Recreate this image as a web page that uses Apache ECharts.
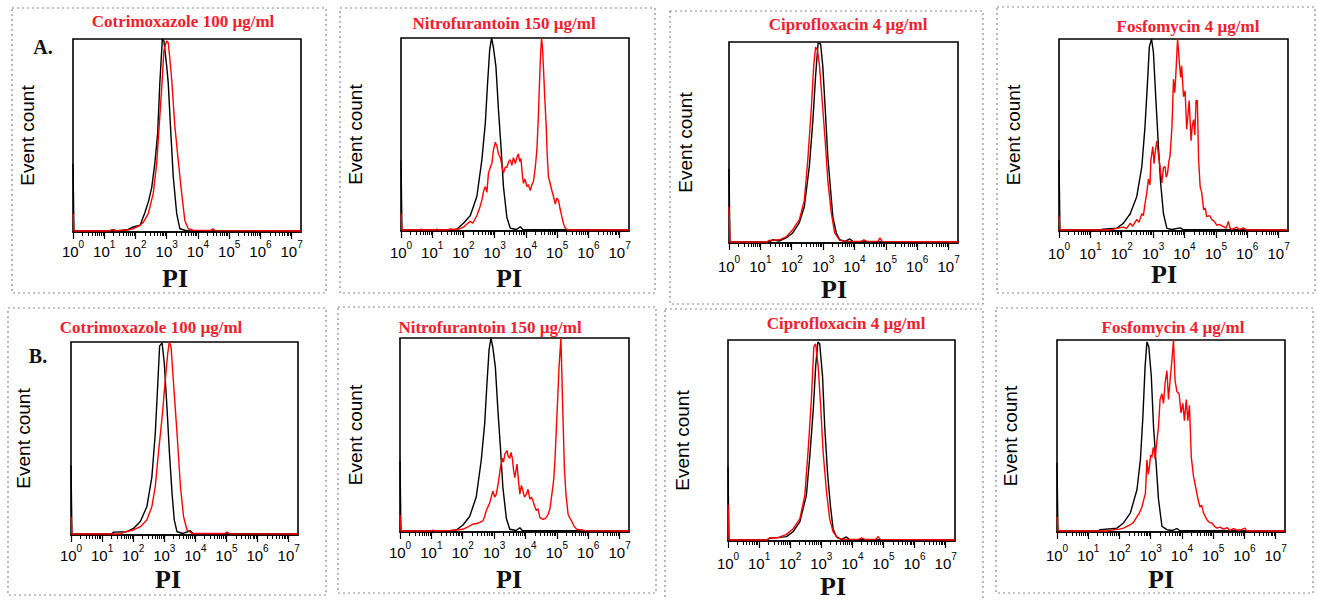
<!DOCTYPE html>
<html><head><meta charset="utf-8">
<script src="https://cdn.jsdelivr.net/npm/echarts@6/dist/echarts.min.js"></script>
<style>html,body{margin:0;padding:0;background:#fff}#c{width:1317px;height:600px}</style>
</head><body><div id="c"></div>
<script>
// ---------- DATA ----------
const decades = [0, 1, 2, 3, 4, 5, 6, 7];          // major tick exponents (10^n)
const minorFactors = [2, 3, 4, 5, 6, 7, 8, 9];     // minor ticks inside each decade
const panelTitles = ['Cotrimoxazole 100 µg/ml', 'Nitrofurantoin 150 µg/ml', 'Ciprofloxacin 4 µg/ml', 'Fosfomycin 4 µg/ml',
                     'Cotrimoxazole 100 µg/ml', 'Nitrofurantoin 150 µg/ml', 'Ciprofloxacin 4 µg/ml', 'Fosfomycin 4 µg/ml'];
const rowLabels = ['A.', 'B.'];
const xName = 'PI';
const yName = 'Event count';
// x = log10(PI), y = event count (% of panel maximum)
const controlA1 = [[0,35.5],[0.03,0.5],[1.2,0.5],[1.3,1.2],[1.4,0.5],[1.75,1.2],[1.93,2.6],[2.15,3.5],[2.3,10],[2.42,16],[2.52,23],[2.62,35.5],[2.71,51],[2.78,77],[2.86,100],[2.91,99],[3.0,86],[3.05,77],[3.12,55],[3.21,28.6],[3.32,9.5],[3.42,1.7],[3.58,0.9],[3.7,0.5],[7.3,0.5]];
const treatedA1 = [[0,9.5],[0.03,0.5],[1.15,0.5],[1.25,1.2],[1.35,0.5],[1.6,1.0],[1.8,1.2],[1.93,1.7],[2.1,3],[2.25,5],[2.41,9.5],[2.57,20],[2.68,35.5],[2.76,55],[2.85,77],[2.91,94],[2.96,97],[3.0,99],[3.05,98],[3.1,90],[3.16,79],[3.26,55],[3.37,37],[3.48,20],[3.58,6],[3.69,1.7],[3.85,0.9],[4.4,0.8],[4.48,1.7],[4.55,0.7],[7.3,0.5]];
const controlA2 = [[0,36.7],[0.03,0.5],[1.6,0.5],[1.79,1],[2.0,4],[2.22,8],[2.43,18],[2.59,37],[2.7,56],[2.77,76],[2.84,94],[2.9,100],[2.96,95],[3.04,85],[3.12,63],[3.2,44],[3.28,23],[3.39,7],[3.5,1.4],[3.7,0.8],[3.82,2.2],[3.9,0.8],[7.3,0.5]];
const treatedA2 = [[0,9],[0.03,0.5],[0.6,0.5],[0.65,1],[0.7,0.5],[1.1,0.5],[1.15,1],[1.2,0.5],[1.5,0.5],[1.55,1],[1.7,0.8],[1.85,1],[2.0,2],[2.1,3.5],[2.22,5],[2.3,4],[2.43,8],[2.52,12],[2.59,16],[2.65,21],[2.7,23],[2.75,20],[2.8,30],[2.86,33],[2.91,35],[2.96,42],[3.02,46],[3.07,44],[3.12,40],[3.18,38],[3.23,34],[3.28,30],[3.34,33],[3.39,33],[3.45,36],[3.5,37],[3.55,34],[3.6,38],[3.66,35],[3.71,38],[3.76,40],[3.8,36],[3.84,37.6],[3.88,30],[3.92,24.7],[3.97,27],[4.03,23],[4.08,24],[4.14,21],[4.19,24],[4.24,25.5],[4.3,33],[4.35,42],[4.4,60],[4.43,75],[4.47,92],[4.5,100],[4.53,95],[4.56,85],[4.6,70],[4.65,54],[4.68,40],[4.72,28],[4.77,25],[4.83,21],[4.88,18],[4.94,14],[4.99,17],[5.04,16],[5.1,11],[5.15,7.4],[5.2,4],[5.26,1.4],[5.36,0.5],[7.3,0.5]];
const controlA3 = [[0,37],[0.03,0.5],[1.3,0.5],[1.39,1.6],[1.6,1],[1.82,2.5],[2.03,5],[2.24,10],[2.4,18],[2.56,38],[2.67,60],[2.76,83],[2.84,99.5],[2.92,99],[2.99,88],[3.07,66],[3.15,43],[3.23,28],[3.31,13],[3.42,5],[3.53,1.6],[3.7,0.8],[3.85,2],[3.95,0.8],[7.3,0.5]];
const treatedA3 = [[0,18],[0.03,0.5],[1.2,0.5],[1.28,1.3],[1.6,1.6],[1.82,3],[2.03,6.6],[2.24,11.5],[2.4,21],[2.51,41],[2.62,66],[2.7,88],[2.76,97.5],[2.82,96],[2.88,89],[2.97,71],[3.07,50],[3.15,31],[3.26,15],[3.37,5],[3.53,1.3],[3.7,0.8],[4.2,0.8],[4.3,1.6],[4.4,0.8],[4.75,0.8],[4.81,2.5],[4.88,0.8],[7.3,0.5]];
const controlA4 = [[0,37],[0.03,0.5],[1.3,0.5],[1.41,1],[1.84,1.4],[2.05,4],[2.27,9],[2.48,18],[2.64,33.5],[2.74,54],[2.82,77],[2.88,96],[2.95,100],[3.01,93],[3.09,68],[3.17,44],[3.24,25],[3.33,9],[3.44,1.4],[3.6,0.8],[3.86,1.6],[3.95,0.8],[7.3,0.5]];
const treatedA4 = [[0,8],[0.03,0.5],[1.6,0.5],[1.73,1],[2.05,2],[2.15,1.2],[2.27,4],[2.35,2.5],[2.48,6],[2.55,4.5],[2.64,9],[2.69,8],[2.74,14],[2.8,20],[2.85,27],[2.9,24],[2.93,37],[2.99,44],[3.03,35],[3.06,40],[3.12,47],[3.19,37],[3.24,31],[3.28,25],[3.33,33],[3.38,33.5],[3.42,28],[3.46,30],[3.5,36],[3.54,39],[3.6,54],[3.65,79],[3.69,72],[3.72,80],[3.78,100],[3.84,87],[3.88,80],[3.91,86],[3.97,70],[4.02,73],[4.07,53],[4.11,60],[4.15,68],[4.21,47],[4.25,55],[4.29,58],[4.33,50],[4.37,68],[4.41,68],[4.45,37],[4.5,23],[4.55,20],[4.61,11],[4.66,12],[4.71,7.5],[4.8,8],[4.87,6],[4.95,5],[5.03,3],[5.1,3.5],[5.24,2.3],[5.33,1.5],[5.4,5],[5.45,1.5],[5.51,0.8],[5.67,2],[5.75,0.8],[5.88,1.6],[5.99,0.5],[7.3,0.5]];
const controlB1 = [[0,36],[0.03,0.5],[1.3,0.5],[1.37,1.5],[1.8,1.7],[2.01,3.4],[2.23,7],[2.44,14.7],[2.6,30],[2.71,52.6],[2.79,78],[2.85,98],[2.93,99.5],[3.0,89],[3.09,65],[3.16,44],[3.25,21.5],[3.32,7.8],[3.41,1.7],[3.6,0.8],[3.84,2.2],[3.92,0.8],[7.3,0.5]];
const treatedB1 = [[0,9.5],[0.03,0.5],[1.6,0.5],[1.69,1.5],[2.01,2.6],[2.23,4.3],[2.44,7.8],[2.6,14.7],[2.71,25],[2.82,44],[2.93,61],[3.03,80],[3.11,94],[3.16,100],[3.22,97],[3.3,78],[3.41,52.6],[3.52,25],[3.62,9.5],[3.73,2.6],[3.89,0.8],[4.95,0.8],[5.02,1.5],[5.1,0.6],[7.3,0.5]];
const controlB2 = [[0,36.7],[0.03,0.5],[1.6,0.5],[1.79,1],[2.0,3.5],[2.22,8],[2.43,18],[2.59,37],[2.7,56],[2.77,76],[2.84,94],[2.9,100],[2.96,95],[3.04,85],[3.12,63],[3.2,44],[3.28,23],[3.39,7],[3.5,1.4],[3.7,0.8],[3.82,2.2],[3.9,0.8],[7.3,0.5]];
const treatedB2 = [[0,9],[0.03,0.5],[1.0,0.5],[1.05,1],[1.1,0.5],[1.6,0.8],[1.79,1],[2.0,1.4],[2.15,2.5],[2.32,4],[2.48,4.5],[2.64,5.7],[2.7,8],[2.75,11],[2.86,15],[2.96,21],[3.02,18],[3.07,19.5],[3.14,26],[3.2,33],[3.26,38],[3.3,36],[3.34,40],[3.41,42],[3.45,39],[3.5,38],[3.54,41],[3.58,38],[3.62,32],[3.66,28],[3.73,35],[3.78,26],[3.82,19.5],[3.87,24],[3.92,21],[3.97,18],[4.03,19.5],[4.08,22],[4.14,17],[4.19,18],[4.24,16],[4.3,13],[4.35,11],[4.4,12],[4.46,7.4],[4.56,6.5],[4.64,7],[4.72,9],[4.78,12],[4.83,18],[4.9,27],[4.94,37],[5.01,62.6],[5.07,85],[5.13,100],[5.18,68],[5.24,33],[5.29,19.5],[5.36,9],[5.42,7],[5.47,5.7],[5.55,3],[5.63,1.4],[5.8,1],[5.95,0.6],[7.3,0.5]];
const controlB3 = [[0,36.7],[0.03,0.5],[1.25,0.5],[1.34,1.3],[1.88,2.2],[2.09,4.6],[2.31,9.5],[2.52,22.7],[2.63,42],[2.74,65],[2.82,87],[2.89,99],[2.95,98],[3.04,82],[3.11,57],[3.2,34],[3.29,18],[3.38,6],[3.49,2],[3.65,0.8],[3.81,2],[3.9,0.8],[7.3,0.5]];
const treatedB3 = [[0,18],[0.03,0.5],[1.25,0.5],[1.34,1.6],[1.6,1.6],[1.88,3.3],[2.09,6],[2.31,11],[2.47,22.7],[2.58,45.7],[2.68,70],[2.76,96.7],[2.82,98],[2.9,87],[2.98,67],[3.06,44],[3.17,24],[3.27,11],[3.38,4.6],[3.54,1.3],[3.7,0.8],[4.2,0.8],[4.3,1.6],[4.4,0.8],[4.75,0.8],[4.83,2.2],[4.9,0.8],[7.3,0.5]];
const controlB4 = [[0,36],[0.03,0.5],[1.3,0.5],[1.39,1.2],[1.92,2],[2.13,4.7],[2.35,10],[2.56,22],[2.67,37.6],[2.75,60],[2.82,86],[2.88,99],[2.94,96.5],[3.02,81],[3.09,55],[3.18,34],[3.25,17],[3.36,3],[3.52,1.2],[3.7,0.8],[3.84,1.8],[3.92,0.8],[7.3,0.5]];
const treatedB4 = [[0,8],[0.03,0.5],[1.6,0.5],[1.81,1.2],[2.0,1.5],[2.13,2],[2.35,3.8],[2.45,5],[2.56,8],[2.64,10],[2.72,13],[2.78,17],[2.83,20],[2.88,37.6],[2.92,30],[2.96,34],[3.0,40],[3.04,39],[3.08,44],[3.11,42.8],[3.14,38],[3.18,44.5],[3.25,55],[3.3,69],[3.36,72],[3.41,67],[3.46,77.5],[3.52,84],[3.57,69],[3.62,79],[3.68,89.6],[3.73,100],[3.78,79],[3.84,73],[3.91,72],[3.97,62],[4.03,67],[4.08,58],[4.14,69],[4.19,58],[4.24,66],[4.3,39],[4.37,29],[4.42,25],[4.48,20],[4.53,16],[4.58,13],[4.63,14],[4.69,10],[4.75,8],[4.8,6.4],[4.88,5],[4.96,4.7],[5.04,3],[5.12,2],[5.22,2.5],[5.33,1.5],[5.45,2.2],[5.54,0.8],[5.65,1.8],[5.76,1],[5.9,1.2],[6.02,2],[6.08,0.5],[7.3,0.5]];
const controls = [controlA1, controlA2, controlA3, controlA4, controlB1, controlB2, controlB3, controlB4];
const treated = [treatedA1, treatedA2, treatedA3, treatedA4, treatedB1, treatedB2, treatedB3, treatedB4];

// ---------- LAYOUT (pixels) ----------
const layout = [
  {grid:[73,39,228,193],  box:[12,8,314,285],   title:[183,21],  lm:7,  ng:33, sh:12,  yg:36},
  {grid:[401,38,228,193], box:[340,8,315,285],  title:[504,23],  lm:9,  ng:34, sh:6,   yg:36},
  {grid:[729,42,229,201], box:[670,11,313,293], title:[848,24],  lm:11, ng:33, sh:9.5, yg:34},
  {grid:[1059,39,229,192],box:[997,7,318,286],  title:[1188,26], lm:10, ng:30, sh:9.5, yg:36},
  {grid:[71,342,227,193], box:[8,308,318,287],  title:[151,327], lm:8,  ng:31, sh:16.5,yg:38},
  {grid:[400,338,229,194],box:[338,307,318,286],title:[490,327], lm:8,  ng:34, sh:5.5, yg:35},
  {grid:[728,340,227,203],box:[665,309,318,301],title:[846,323], lm:10, ng:32, sh:8.5, yg:36},
  {grid:[1057,340,228,192],box:[996,308,317,285],title:[1173,327],lm:11, ng:34, sh:10,  yg:37}
];
const rowLabelPos = [[43,47],[38,356]];

const minorTicks = [];
decades.slice(0, 7).forEach(d => minorFactors.forEach(f => minorTicks.push(d + Math.log10(f))));

const grids = [], xAxes = [], yAxes = [], series = [], graphics = [];
layout.forEach((p, i) => {
  const [l, t, w, h] = p.grid;
  grids.push({left: l, top: t, width: w, height: h, show: true, borderColor: '#000', borderWidth: 1.6, backgroundColor: 'transparent'});
  xAxes.push({
    type: 'value', gridIndex: i, min: 0, max: 7.3, position: 'bottom',
    axisLine: {show: true, onZero: false, lineStyle: {color: '#000', width: 1.6}},
    axisTick: {show: true, length: 7, lineStyle: {color: '#000', width: 1.2}, customValues: decades},
    axisLabel: {
      customValues: decades, margin: p.lm, color: '#000',
      formatter: v => '{b|10}{s|' + v + '}',
      rich: {
        b: {fontSize: 15, fontFamily: 'Liberation Sans', color: '#000', lineHeight: 20, verticalAlign: 'bottom'},
        s: {fontSize: 10, fontFamily: 'Liberation Sans', color: '#000', lineHeight: 13, verticalAlign: 'top'}
      }
    },
    splitLine: {show: false},
    name: xName, nameLocation: 'middle', nameGap: p.ng,
    nameTextStyle: {fontFamily: 'Liberation Serif', fontWeight: 'bold', fontSize: 26, color: '#111', padding: [0, 2 * p.sh, 0, 0]}
  });
  xAxes.push({
    type: 'value', gridIndex: i, min: 0, max: 7.3, position: 'bottom',
    axisLine: {show: false, onZero: false},
    axisTick: {show: true, length: 4, lineStyle: {color: '#000', width: 1}, customValues: minorTicks},
    axisLabel: {show: false}, splitLine: {show: false}
  });
  yAxes.push({
    type: 'value', gridIndex: i, min: 0, max: 100,
    axisLine: {show: false}, axisTick: {show: false}, axisLabel: {show: false}, splitLine: {show: false},
    name: yName, nameLocation: 'middle', nameRotate: 90, nameGap: p.yg,
    nameTextStyle: {fontFamily: 'Liberation Sans', fontSize: 19, color: '#000'}
  });
  series.push({type: 'line', xAxisIndex: 2 * i, yAxisIndex: i, data: controls[i], showSymbol: false, symbol: 'none',
    clip: false, lineStyle: {color: '#000', width: 1.4}, itemStyle: {color: '#000'}, z: 3, silent: true});
  series.push({type: 'line', xAxisIndex: 2 * i, yAxisIndex: i, data: treated[i], showSymbol: false, symbol: 'none',
    clip: false, lineStyle: {color: '#ff0000', width: 1.4}, itemStyle: {color: '#ff0000'}, z: 4, silent: true});
  const [bx, by, bw, bh] = p.box;
  graphics.push({type: 'rect', silent: true, z: -1, shape: {x: bx, y: by, width: bw, height: bh},
    style: {fill: 'none', stroke: '#8a8a8a', lineWidth: 1.2, lineDash: [2, 3]}});
  graphics.push({type: 'text', silent: true, x: p.title[0], y: p.title[1],
    style: {text: panelTitles[i], fill: '#f0202e', fontFamily: 'Liberation Serif', fontWeight: 'bold', fontSize: 17, align: 'center', verticalAlign: 'middle'}});
});
rowLabels.forEach((t, r) => {
  graphics.push({type: 'text', silent: true, x: rowLabelPos[r][0], y: rowLabelPos[r][1],
    style: {text: t, fill: '#111', fontFamily: 'Liberation Serif', fontWeight: 'bold', fontSize: 20, align: 'center', verticalAlign: 'middle'}});
});

const chart = echarts.init(document.getElementById('c'), null, {renderer: 'svg'});
chart.setOption({
  animation: false,
  backgroundColor: '#fff',
  grid: grids, xAxis: xAxes, yAxis: yAxes, series: series, graphic: graphics
});
</script>
</body></html>
